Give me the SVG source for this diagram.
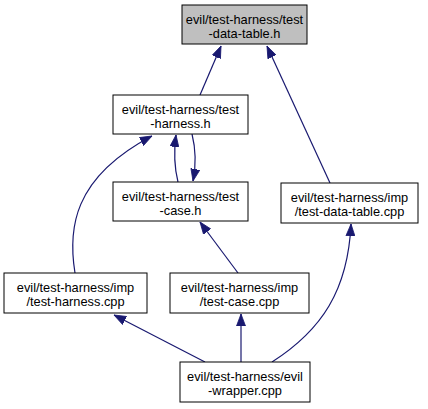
<svg xmlns="http://www.w3.org/2000/svg" width="428" height="409" viewBox="0 0 428 409">
<defs>
<style>
.n rect{fill:#ffffff;stroke:#000000;stroke-width:1}
.n.g rect{fill:#bfbfbf}
.n text{font-family:"Liberation Sans",Arial,sans-serif;font-size:12.8px;fill:#000000;text-anchor:middle}
.e path{fill:none;stroke:#191970;stroke-width:1.2}
</style>
<marker id="a" viewBox="0 0 12 10" refX="12" refY="5" markerWidth="12" markerHeight="10" markerUnits="userSpaceOnUse" orient="auto">
<path d="M0,0.5 L12,5 L0,9.5 Z" fill="#191970" stroke="#191970" stroke-width="0.8"/>
</marker>
</defs>
<rect width="428" height="409" fill="#ffffff"/>
<g id="edges" class="e">
<path d="M200,95 L221,46" marker-end="url(#a)"/>
<path d="M330,183 L267,46" marker-end="url(#a)"/>
<path d="M178,182 C174,166 174,150 176,135" marker-end="url(#a)"/>
<path d="M192,134 C196,150 196,166 193,181" marker-end="url(#a)"/>
<path d="M75,273 C68,230 72,178 152,136" marker-end="url(#a)"/>
<path d="M238,273 L200,222" marker-end="url(#a)"/>
<path d="M205,362 L114,315" marker-end="url(#a)"/>
<path d="M241,362 L241,314" marker-end="url(#a)"/>
<path d="M272,362 C322,330 348,290 351,224" marker-end="url(#a)"/>
</g>
<g id="n1" class="n g"><rect x="182" y="5" width="125" height="39"/><text x="244.5" y="24">evil/test-harness/test</text><text x="244.5" y="38">-data-table.h</text></g>
<g id="n2" class="n"><rect x="113" y="95" width="135" height="39"/><text x="180.5" y="114">evil/test-harness/test</text><text x="180.5" y="128">-harness.h</text></g>
<g id="n3" class="n"><rect x="113" y="182" width="135" height="39"/><text x="180.5" y="201">evil/test-harness/test</text><text x="180.5" y="215">-case.h</text></g>
<g id="n4" class="n"><rect x="281" y="183" width="137" height="40"/><text x="349.5" y="202">evil/test-harness/imp</text><text x="349.5" y="216">/test-data-table.cpp</text></g>
<g id="n5" class="n"><rect x="4" y="273" width="143" height="40"/><text x="75.5" y="292">evil/test-harness/imp</text><text x="75.5" y="306">/test-harness.cpp</text></g>
<g id="n6" class="n"><rect x="170" y="273" width="139" height="40"/><text x="239.5" y="292">evil/test-harness/imp</text><text x="239.5" y="306">/test-case.cpp</text></g>
<g id="n7" class="n"><rect x="180" y="362" width="130" height="40"/><text x="245" y="381">evil/test-harness/evil</text><text x="245" y="395">-wrapper.cpp</text></g>
</svg>
